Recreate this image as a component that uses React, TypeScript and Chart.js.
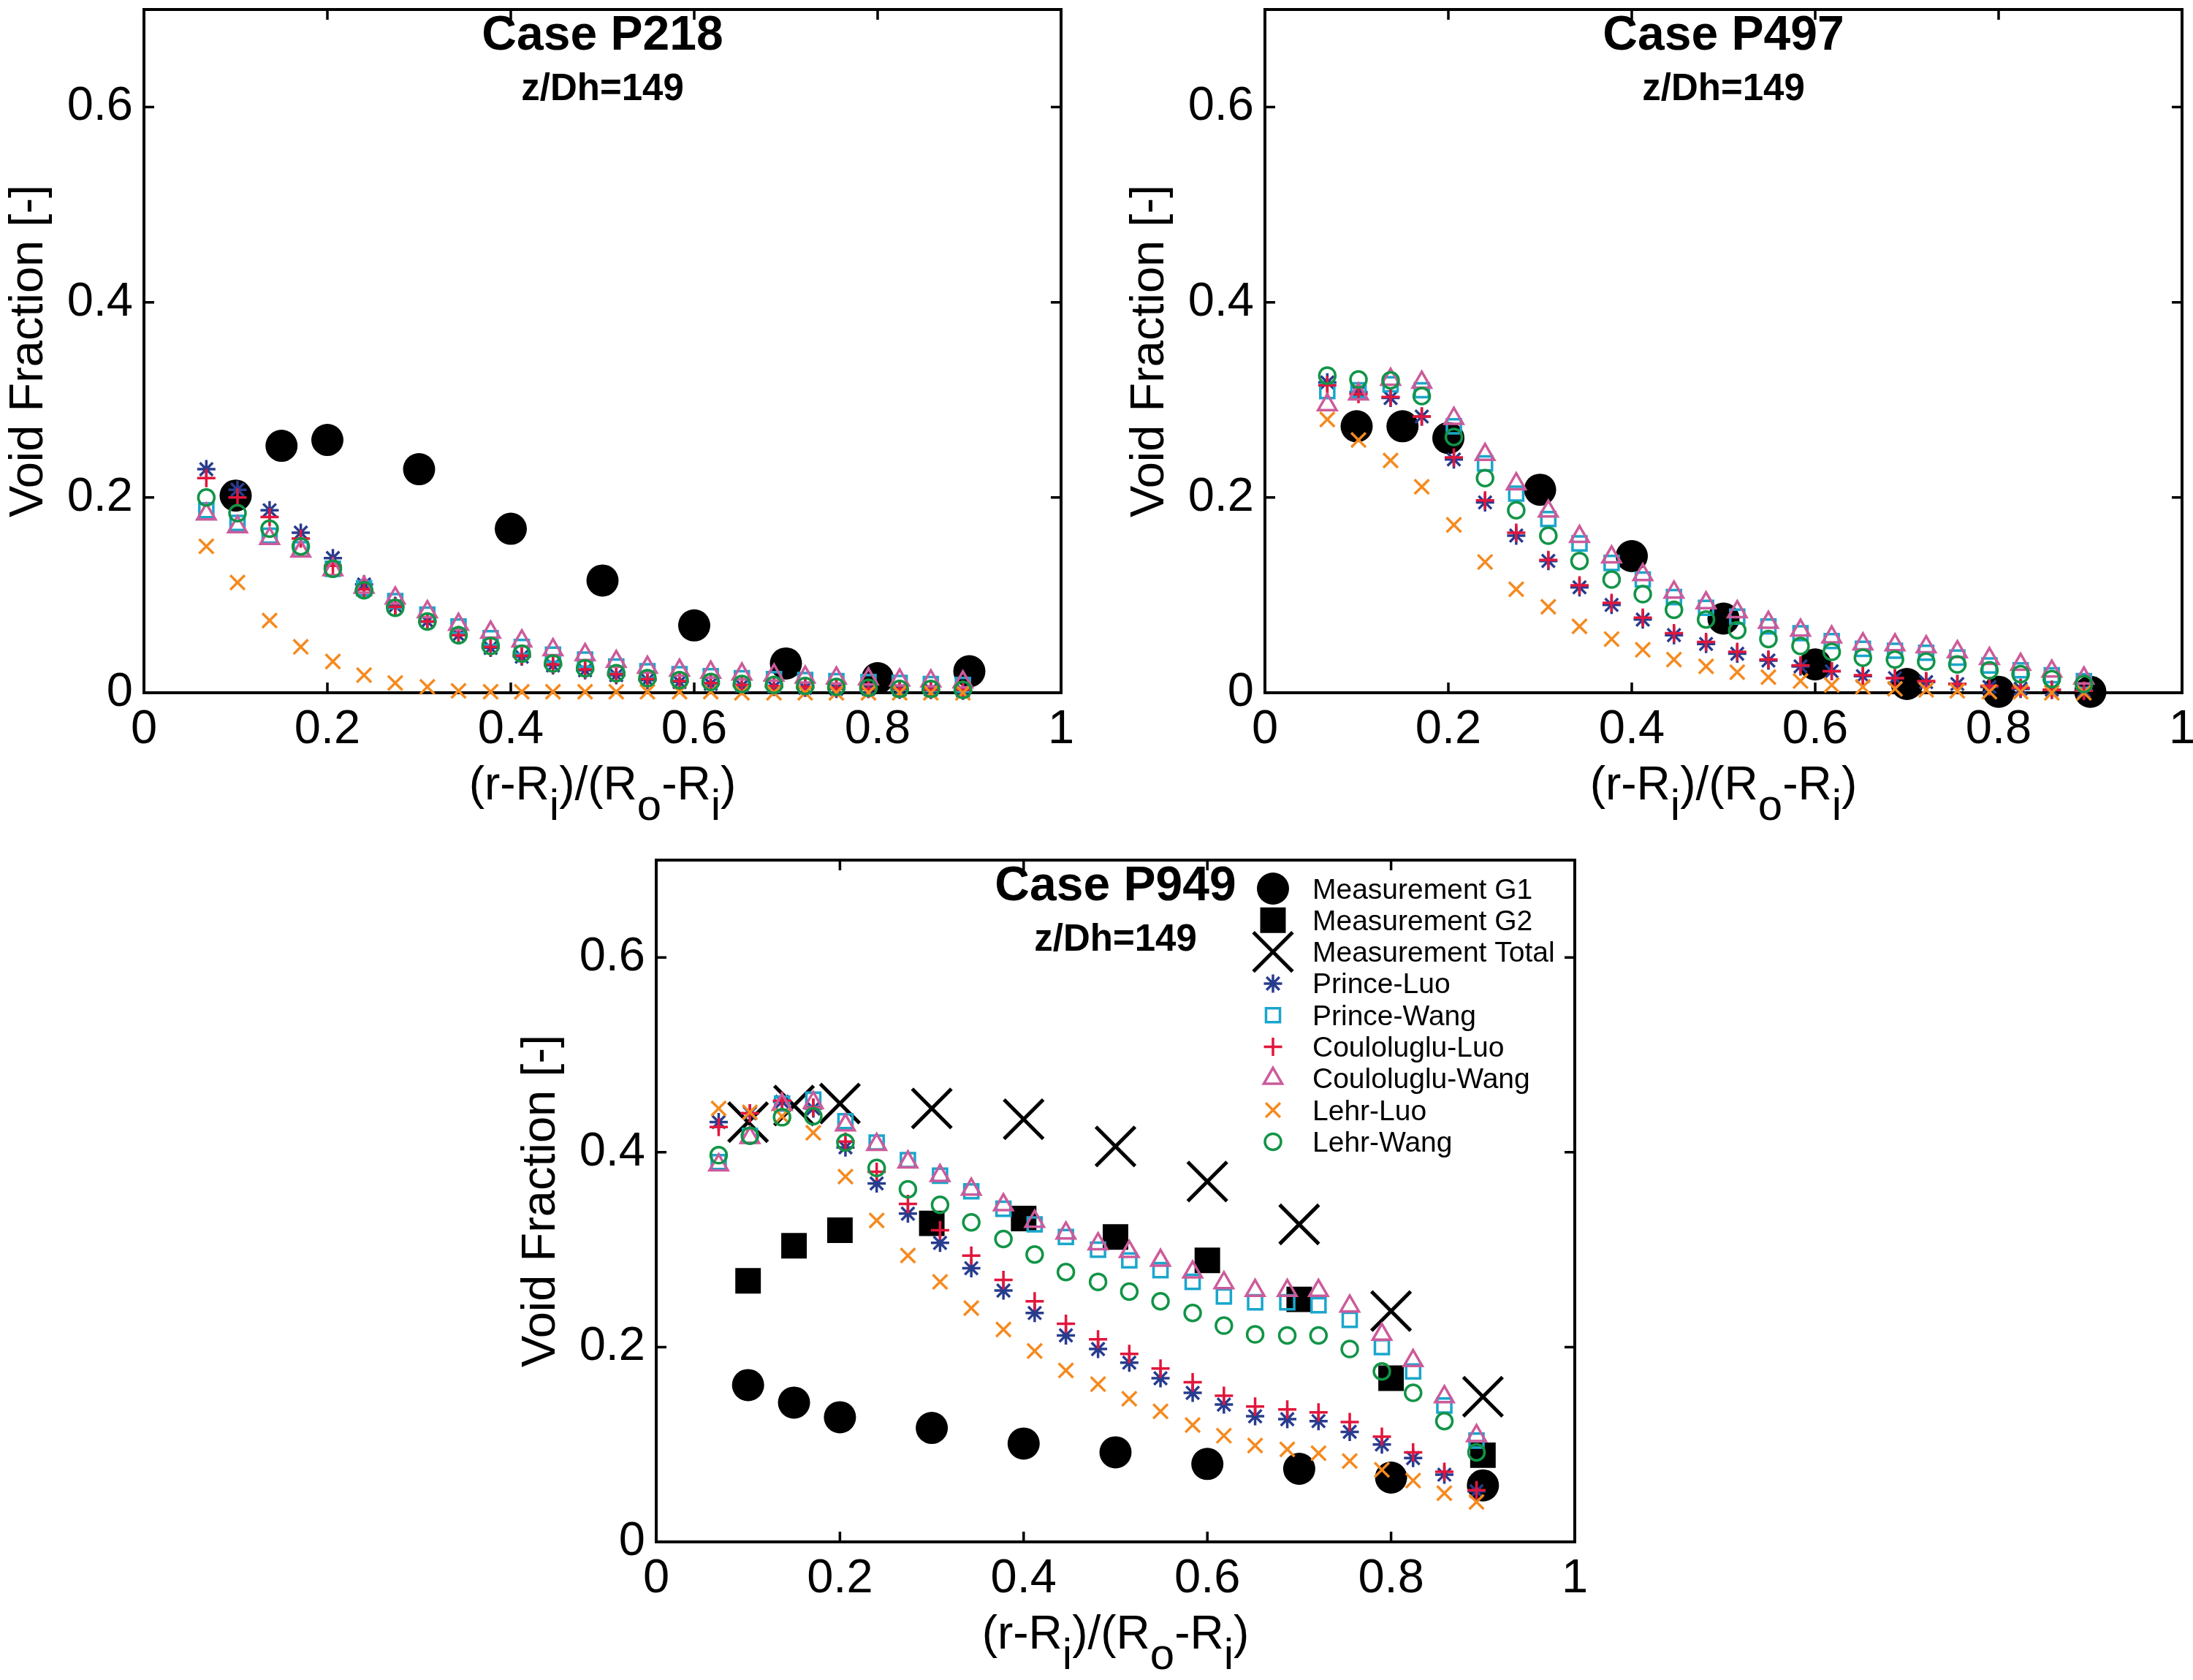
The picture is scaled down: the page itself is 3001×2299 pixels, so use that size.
import React, { useEffect, useRef } from "react";
import { Chart, registerables } from "chart.js";
import { drawPoint } from "chart.js/helpers";

Chart.register(...registerables);

// radial positions (r-Ri)/(Ro-Ri)
const xModel = [0.068, 0.102, 0.137, 0.171, 0.206, 0.240, 0.274, 0.309, 0.343, 0.378, 0.412, 0.446, 0.481,
  0.515, 0.549, 0.584, 0.618, 0.652, 0.687, 0.721, 0.755, 0.790, 0.824, 0.858, 0.893];
const xMeas = [0.1, 0.15, 0.2, 0.3, 0.4, 0.5, 0.6, 0.7, 0.8, 0.9];

const xTicks = [0, 0.2, 0.4, 0.6, 0.8, 1];
const yTicks = [0, 0.2, 0.4, 0.6];

// Case P218
const g1P218 = [0.202, 0.253, 0.259, 0.229, 0.168, 0.115, 0.069, 0.030, 0.015, 0.022];
const princeLuoP218 = [0.229, 0.208, 0.187, 0.164, 0.138, 0.111, 0.089, 0.073, 0.059, 0.046, 0.037, 0.028, 0.023,
  0.018, 0.013, 0.011, 0.009, 0.007, 0.006, 0.005, 0.004, 0.004, 0.003, 0.003, 0.002];
const princeWangP218 = [0.187, 0.174, 0.161, 0.147, 0.127, 0.107, 0.094, 0.080, 0.068, 0.056, 0.047, 0.039, 0.034,
  0.027, 0.022, 0.019, 0.017, 0.015, 0.014, 0.013, 0.012, 0.011, 0.010, 0.009, 0.008];
const coulLuoP218 = [0.220, 0.200, 0.180, 0.158, 0.130, 0.106, 0.088, 0.073, 0.059, 0.047, 0.038, 0.029, 0.024,
  0.019, 0.014, 0.012, 0.010, 0.008, 0.007, 0.006, 0.005, 0.004, 0.004, 0.003, 0.003];
const coulWangP218 = [0.183, 0.170, 0.158, 0.145, 0.126, 0.108, 0.097, 0.083, 0.070, 0.062, 0.053, 0.044, 0.039,
  0.032, 0.026, 0.023, 0.021, 0.019, 0.018, 0.016, 0.015, 0.014, 0.013, 0.012, 0.011];
const lehrLuoP218 = [0.150, 0.113, 0.074, 0.047, 0.032, 0.018, 0.010, 0.006, 0.002, 0.001, 0.001, 0.001, 0.001,
  0.001, 0.001, 0.001, 0.001, 0.000, 0.000, 0.000, 0.000, 0.000, 0.000, 0.000, 0.000];
const lehrWangP218 = [0.200, 0.184, 0.168, 0.150, 0.127, 0.105, 0.087, 0.073, 0.059, 0.048, 0.040, 0.030, 0.025,
  0.020, 0.015, 0.013, 0.011, 0.009, 0.008, 0.007, 0.006, 0.005, 0.004, 0.004, 0.003];

// Case P497
const g1P497 = [0.273, 0.273, 0.261, 0.208, 0.140, 0.076, 0.029, 0.009, 0.001, 0.001];
const princeLuoP497 = [0.318, 0.308, 0.302, 0.283, 0.239, 0.195, 0.161, 0.135, 0.108, 0.090, 0.075, 0.059, 0.050,
  0.040, 0.033, 0.027, 0.022, 0.017, 0.015, 0.011, 0.009, 0.006, 0.004, 0.003, 0.002];
const princeWangP497 = [0.309, 0.310, 0.316, 0.310, 0.273, 0.235, 0.204, 0.178, 0.153, 0.133, 0.116, 0.098, 0.087,
  0.078, 0.068, 0.061, 0.053, 0.045, 0.043, 0.041, 0.036, 0.028, 0.023, 0.018, 0.012];
const coulLuoP497 = [0.315, 0.306, 0.303, 0.283, 0.241, 0.197, 0.164, 0.136, 0.110, 0.092, 0.077, 0.061, 0.052,
  0.042, 0.034, 0.028, 0.022, 0.018, 0.015, 0.012, 0.009, 0.007, 0.005, 0.003, 0.002];
const coulWangP497 = [0.295, 0.306, 0.321, 0.318, 0.281, 0.244, 0.214, 0.186, 0.160, 0.139, 0.121, 0.103, 0.092,
  0.083, 0.072, 0.064, 0.057, 0.050, 0.049, 0.047, 0.042, 0.035, 0.029, 0.022, 0.015];
const lehrLuoP497 = [0.280, 0.259, 0.238, 0.211, 0.172, 0.134, 0.106, 0.088, 0.068, 0.055, 0.044, 0.034, 0.027,
  0.021, 0.016, 0.012, 0.008, 0.006, 0.004, 0.003, 0.002, 0.001, 0.001, 0.000, 0.000];
const lehrWangP497 = [0.325, 0.321, 0.320, 0.304, 0.262, 0.220, 0.187, 0.161, 0.135, 0.116, 0.101, 0.085, 0.075,
  0.064, 0.055, 0.048, 0.042, 0.036, 0.034, 0.032, 0.029, 0.023, 0.019, 0.014, 0.009];

// Case P949
const g1P949 = [0.161, 0.143, 0.128, 0.117, 0.101, 0.092, 0.080, 0.075, 0.066, 0.058];
const g2P949 = [0.268, 0.304, 0.320, 0.327, 0.332, 0.313, 0.289, 0.249, 0.168, 0.089];
const totalP949 = [0.431, 0.448, 0.450, 0.445, 0.434, 0.406, 0.370, 0.326, 0.237, 0.149];
const princeLuoP949 = [0.431, 0.440, 0.452, 0.445, 0.405, 0.368, 0.337, 0.307, 0.281, 0.258, 0.235, 0.212, 0.198,
  0.184, 0.168, 0.153, 0.141, 0.129, 0.126, 0.124, 0.113, 0.100, 0.086, 0.069, 0.052];
const princeWangP949 = [0.390, 0.417, 0.450, 0.454, 0.432, 0.410, 0.392, 0.376, 0.360, 0.342, 0.326, 0.313, 0.300,
  0.289, 0.279, 0.267, 0.252, 0.246, 0.246, 0.243, 0.228, 0.200, 0.175, 0.140, 0.104];
const coulLuoP949 = [0.426, 0.440, 0.453, 0.446, 0.411, 0.380, 0.347, 0.320, 0.294, 0.269, 0.247, 0.224, 0.208,
  0.193, 0.178, 0.164, 0.150, 0.139, 0.136, 0.133, 0.123, 0.108, 0.092, 0.072, 0.053];
const coulWangP949 = [0.387, 0.415, 0.449, 0.451, 0.428, 0.408, 0.390, 0.376, 0.362, 0.346, 0.329, 0.317, 0.306,
  0.298, 0.289, 0.277, 0.266, 0.258, 0.258, 0.258, 0.242, 0.213, 0.186, 0.149, 0.109];
const lehrLuoP949 = [0.445, 0.441, 0.437, 0.420, 0.375, 0.330, 0.294, 0.267, 0.240, 0.218, 0.196, 0.176, 0.162,
  0.147, 0.134, 0.120, 0.109, 0.099, 0.095, 0.091, 0.083, 0.074, 0.063, 0.050, 0.041];
const lehrWangP949 = [0.397, 0.417, 0.436, 0.437, 0.410, 0.384, 0.362, 0.346, 0.328, 0.311, 0.295, 0.277, 0.267,
  0.257, 0.247, 0.235, 0.222, 0.213, 0.212, 0.212, 0.198, 0.175, 0.153, 0.124, 0.092];

// x title with subscripts: [text, isSubscript]
const xTitleParts: [string, boolean][] = [["(r-R", false], ["i", true], [")/(R", false], ["o", true],
  ["-R", false], ["i", true], [")", false]];
const yTitle = "Void Fraction [-]";

const FONT = "'Liberation Sans', Arial, Helvetica, sans-serif";

// marker styles, one per series name
const styles: Record<string, any> = {
  "Measurement G1": { pointStyle: "circle", pointRadius: 22, pointBackgroundColor: "#000", pointBorderColor: "#000", pointBorderWidth: 0 },
  "Measurement G2": { pointStyle: "rect", pointRadius: 24.7, pointBackgroundColor: "#000", pointBorderColor: "#000", pointBorderWidth: 0 },
  "Measurement Total": { pointStyle: "crossRot", pointRadius: 38, pointBackgroundColor: "#000", pointBorderColor: "#000", pointBorderWidth: 5 },
  "Prince-Luo": { pointStyle: "star", pointRadius: 12.5, pointBackgroundColor: "#283c8e", pointBorderColor: "#283c8e", pointBorderWidth: 3.5 },
  "Prince-Wang": { pointStyle: "rect", pointRadius: 13.5, pointBackgroundColor: "rgba(0,0,0,0)", pointBorderColor: "#1aa6cc", pointBorderWidth: 3.5 },
  "Couloluglu-Luo": { pointStyle: "cross", pointRadius: 12.5, pointBackgroundColor: "#e2163c", pointBorderColor: "#e2163c", pointBorderWidth: 3.5 },
  "Couloluglu-Wang": { pointStyle: "triangle", pointRadius: 14.5, pointBackgroundColor: "rgba(0,0,0,0)", pointBorderColor: "#cc5b9b", pointBorderWidth: 3.5 },
  "Lehr-Luo": { pointStyle: "crossRot", pointRadius: 14, pointBackgroundColor: "#f58a1f", pointBorderColor: "#f58a1f", pointBorderWidth: 3.5 },
  "Lehr-Wang": { pointStyle: "circle", pointRadius: 11, pointBackgroundColor: "rgba(0,0,0,0)", pointBorderColor: "#129447", pointBorderWidth: 3.5 },
};

type Series = { label: string; xs: number[]; ys: number[] };

const panels = [
  {
    title: "Case P218", left: 0, top: 0, width: 1490, height: 1150,
    yAxisW: 197, xAxisH: 202, padTop: 13, padRight: 38, legend: false,
    series: [
      { label: "Measurement G1", xs: xMeas, ys: g1P218 },
      { label: "Prince-Luo", xs: xModel, ys: princeLuoP218 },
      { label: "Prince-Wang", xs: xModel, ys: princeWangP218 },
      { label: "Couloluglu-Luo", xs: xModel, ys: coulLuoP218 },
      { label: "Couloluglu-Wang", xs: xModel, ys: coulWangP218 },
      { label: "Lehr-Luo", xs: xModel, ys: lehrLuoP218 },
      { label: "Lehr-Wang", xs: xModel, ys: lehrWangP218 },
    ] as Series[],
  },
  {
    title: "Case P497", left: 1500, top: 0, width: 1501, height: 1150,
    yAxisW: 231, xAxisH: 202, padTop: 13, padRight: 15, legend: false,
    series: [
      { label: "Measurement G1", xs: xMeas, ys: g1P497 },
      { label: "Prince-Luo", xs: xModel, ys: princeLuoP497 },
      { label: "Prince-Wang", xs: xModel, ys: princeWangP497 },
      { label: "Couloluglu-Luo", xs: xModel, ys: coulLuoP497 },
      { label: "Couloluglu-Wang", xs: xModel, ys: coulWangP497 },
      { label: "Lehr-Luo", xs: xModel, ys: lehrLuoP497 },
      { label: "Lehr-Wang", xs: xModel, ys: lehrWangP497 },
    ] as Series[],
  },
  {
    title: "Case P949", left: 680, top: 1160, width: 1520, height: 1139,
    yAxisW: 218, xAxisH: 189, padTop: 17, padRight: 45, legend: true,
    series: [
      { label: "Measurement G1", xs: xMeas, ys: g1P949 },
      { label: "Measurement G2", xs: xMeas, ys: g2P949 },
      { label: "Measurement Total", xs: xMeas, ys: totalP949 },
      { label: "Prince-Luo", xs: xModel, ys: princeLuoP949 },
      { label: "Prince-Wang", xs: xModel, ys: princeWangP949 },
      { label: "Couloluglu-Luo", xs: xModel, ys: coulLuoP949 },
      { label: "Couloluglu-Wang", xs: xModel, ys: coulWangP949 },
      { label: "Lehr-Luo", xs: xModel, ys: lehrLuoP949 },
      { label: "Lehr-Wang", xs: xModel, ys: lehrWangP949 },
    ] as Series[],
  },
];

// box around the plot with inward ticks on all four sides
const framePlugin = {
  id: "frame",
  beforeDatasetsDraw(chart: any) {
    const { ctx, chartArea: a, scales } = chart;
    ctx.save();
    ctx.strokeStyle = "#000";
    ctx.lineWidth = 4;
    ctx.strokeRect(a.left, a.top, a.right - a.left, a.bottom - a.top);
    ctx.lineWidth = 3.5;
    ctx.beginPath();
    xTicks.forEach((v) => {
      const px = scales.x.getPixelForValue(v);
      ctx.moveTo(px, a.bottom);
      ctx.lineTo(px, a.bottom - 14);
      ctx.moveTo(px, a.top);
      ctx.lineTo(px, a.top + 14);
    });
    yTicks.forEach((v) => {
      const py = scales.y.getPixelForValue(v);
      ctx.moveTo(a.left, py);
      ctx.lineTo(a.left + 14, py);
      ctx.moveTo(a.right, py);
      ctx.lineTo(a.right - 14, py);
    });
    ctx.stroke();
    ctx.restore();
  },
};

// titles inside the box, axis titles, and the in-plot legend
const textPlugin = {
  id: "panelText",
  afterDatasetsDraw(chart: any, _args: any, opts: any) {
    const { ctx, chartArea: a } = chart;
    const cx = (a.left + a.right) / 2;
    ctx.save();
    ctx.fillStyle = "#000";
    ctx.textAlign = "center";
    ctx.textBaseline = "alphabetic";
    ctx.font = `bold 66px ${FONT}`;
    ctx.fillText(opts.title, cx, a.top + 55);
    ctx.font = `bold 51px ${FONT}`;
    ctx.fillText("z/Dh=149", cx, a.top + 124);

    // y title
    ctx.save();
    ctx.translate(a.left - 139, (a.top + a.bottom) / 2);
    ctx.rotate(-Math.PI / 2);
    ctx.font = `65px ${FONT}`;
    ctx.fillText(yTitle, 0, 0);
    ctx.restore();

    // x title with subscripts
    const mainFont = `64px ${FONT}`;
    const subFont = `60px ${FONT}`;
    let total = 0;
    xTitleParts.forEach(([t, sub]) => {
      ctx.font = sub ? subFont : mainFont;
      total += ctx.measureText(t).width;
    });
    let x = cx - total / 2;
    const base = a.bottom + 146;
    ctx.textAlign = "left";
    xTitleParts.forEach(([t, sub]) => {
      ctx.font = sub ? subFont : mainFont;
      ctx.fillText(t, x, sub ? base + 28 : base);
      x += ctx.measureText(t).width;
    });

    if (opts.legend) {
      chart.data.datasets.forEach((ds: any, i: number) => {
        const mx = a.left + 844;
        const my = a.top + 39 + i * 43.3;
        ctx.fillStyle = ds.pointBackgroundColor;
        ctx.strokeStyle = ds.pointBorderColor;
        ctx.lineWidth = ds.pointBorderWidth;
        drawPoint(ctx, { pointStyle: ds.pointStyle, radius: ds.pointRadius, borderWidth: ds.pointBorderWidth, rotation: 0 } as any, mx, my);
        ctx.fillStyle = "#000";
        ctx.font = `39px ${FONT}`;
        ctx.textAlign = "left";
        ctx.fillText(ds.label, a.left + 898, my + 13.5);
      });
    }
    ctx.restore();
  },
};

function Panel({ p }: { p: (typeof panels)[number] }) {
  const canvasRef = useRef<HTMLCanvasElement | null>(null);

  useEffect(() => {
    if (!canvasRef.current) return;
    const n = p.series.length;
    const chart = new Chart(canvasRef.current, {
      type: "scatter",
      data: {
        datasets: p.series.map((s, i) => ({
          label: s.label,
          data: s.xs.map((x, j) => ({ x, y: s.ys[j] })),
          showLine: false,
          clip: false as any,
          order: n - 1 - i, // later series drawn on top, as in the original
          ...styles[s.label],
        })),
      },
      options: {
        responsive: false,
        animation: false,
        devicePixelRatio: 1,
        events: [],
        layout: { autoPadding: false, padding: { top: p.padTop, right: p.padRight, left: 0, bottom: 0 } },
        plugins: {
          legend: { display: false },
          tooltip: { enabled: false },
          title: { display: false },
          panelText: { title: p.title, legend: p.legend },
        } as any,
        scales: {
          x: {
            type: "linear",
            min: 0,
            max: 1,
            grid: { display: false, drawTicks: false },
            border: { display: false },
            afterBuildTicks: (s: any) => {
              s.ticks = xTicks.map((value) => ({ value }));
            },
            afterFit: (s: any) => {
              s.height = p.xAxisH;
              s.paddingLeft = 0;
              s.paddingRight = 0;
            },
            ticks: {
              padding: 12,
              color: "#000",
              maxRotation: 0,
              autoSkip: false,
              font: { family: FONT, size: 65 },
              callback: (v: any) => String(v),
            },
          },
          y: {
            type: "linear",
            min: 0,
            max: 0.7,
            grid: { display: false, drawTicks: false },
            border: { display: false },
            afterBuildTicks: (s: any) => {
              s.ticks = yTicks.map((value) => ({ value }));
            },
            afterFit: (s: any) => {
              s.width = p.yAxisW;
              s.paddingTop = 0;
              s.paddingBottom = 0;
            },
            ticks: {
              padding: 15,
              color: "#000",
              autoSkip: false,
              font: { family: FONT, size: 65 },
              callback: (v: any) => String(v),
            },
          },
        },
      },
      plugins: [framePlugin, textPlugin],
    });
    return () => chart.destroy();
  }, [p]);

  return (
    <div style={{ position: "absolute", left: p.left, top: p.top, width: p.width, height: p.height }}>
      <canvas ref={canvasRef} width={p.width} height={p.height} style={{ width: p.width, height: p.height }} />
    </div>
  );
}

export default function App() {
  return (
    <div style={{ position: "absolute", left: 0, top: 0, width: 3001, height: 2299, background: "#fff" }}>
      {panels.map((p) => (
        <Panel key={p.title} p={p} />
      ))}
    </div>
  );
}
